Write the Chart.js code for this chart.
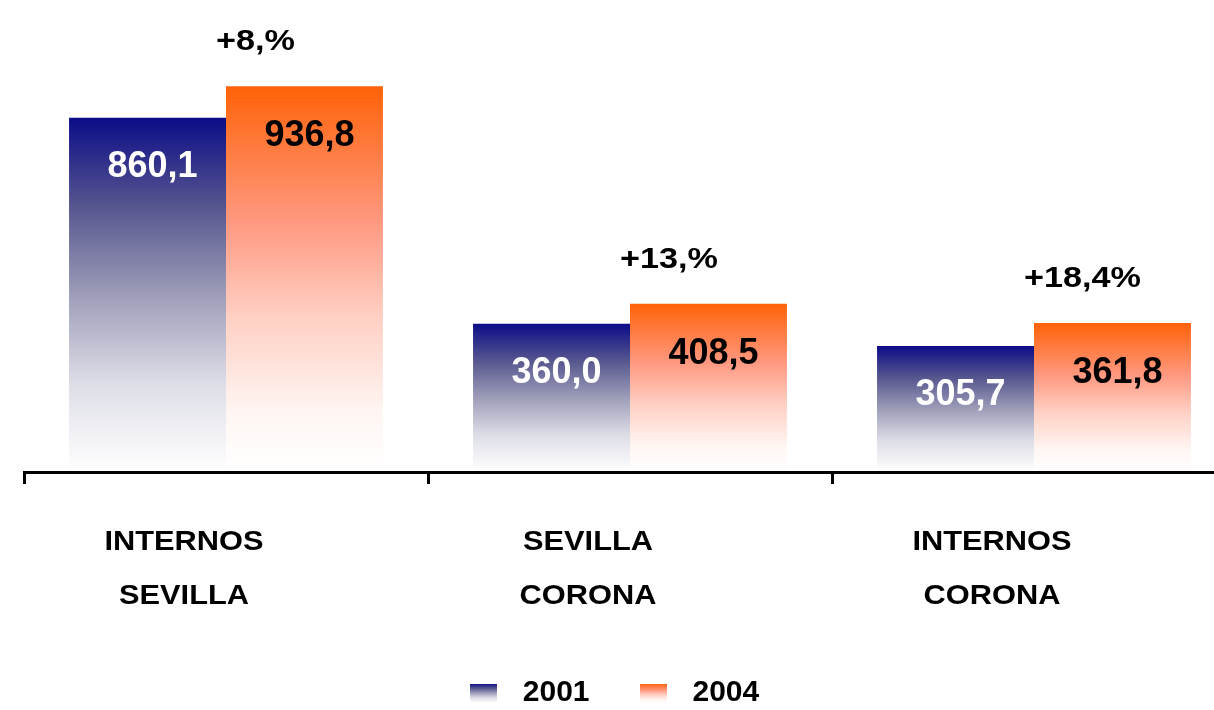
<!DOCTYPE html>
<html>
<head>
<meta charset="utf-8">
<script src="https://cdn.jsdelivr.net/npm/chart.js@4/dist/chart.umd.min.js"></script>
<style>
  html, body { margin: 0; padding: 0; background: #fff; overflow: hidden; }
  #wrap { width: 1236px; height: 710px; position: relative; }
</style>
</head>
<body>
<div id="wrap"><canvas id="myChart"></canvas></div>
<script>
// datos
const categorias = [['INTERNOS', 'SEVILLA'], ['SEVILLA', 'CORONA'], ['INTERNOS', 'CORONA']];
const serie2001 = [860.1, 360.0, 305.7];
const serie2004 = [936.8, 408.5, 361.8];
const crecimiento = ['+8,%', '+13,%', '+18,4%'];
const anios = ['2001', '2004'];

const FONT = "'Liberation Sans', Arial, Helvetica, sans-serif";
Chart.defaults.font.family = FONT;

const azulStops = [[0, '#0c0c88'], [0.25, '#56568f'], [0.5, '#9d9db9'], [0.75, '#dddde7'], [1, '#ffffff']];
const naranjaStops = [[0, '#ff6208'], [0.35, '#ff9880'], [0.6, '#ffd0c4'], [0.85, '#fff6f3'], [1, '#ffffff']];

// degradado por barra (arriba color, abajo blanco)
function barGradient(context, stops) {
  const chart = context.chart;
  const { chartArea, scales } = chart;
  if (!chartArea) return stops[0][1];
  const top = scales.y.getPixelForValue(context.raw);
  const bottom = scales.y.getPixelForValue(0);
  const g = chart.ctx.createLinearGradient(0, top, 0, bottom);
  stops.forEach(([o, c]) => g.addColorStop(o, c));
  return g;
}

// cuadrito de la leyenda
function legendBox(stops) {
  const c = document.createElement('canvas');
  c.width = 27;
  c.height = 19;
  const x = c.getContext('2d');
  const g = x.createLinearGradient(0, 0, 0, 19);
  stops.forEach(([o, col]) => g.addColorStop(o, col));
  x.fillStyle = g;
  x.fillRect(0, 0, 27, 19);
  return c;
}

const etiquetas = {
  id: 'etiquetas',
  afterLayout(chart) {
    // la leyenda va un poco a la izquierda del centro
    chart.legend.left -= 9;
    chart.legend.right -= 9;
  },
  afterDatasetsDraw(chart) {
    const ctx = chart.ctx;
    const m0 = chart.getDatasetMeta(0).data;
    const m1 = chart.getDatasetMeta(1).data;

    ctx.save();
    ctx.textAlign = 'center';
    ctx.textBaseline = 'middle';
    ctx.font = 'bold 36px ' + FONT;
    m0.forEach((bar, i) => {
      ctx.fillStyle = '#ffffff';
      ctx.fillText(serie2001[i].toFixed(1).replace('.', ','), bar.x + 5, bar.y + 49);
    });
    m1.forEach((bar, i) => {
      ctx.fillStyle = '#000000';
      ctx.fillText(serie2004[i].toFixed(1).replace('.', ','), bar.x + 5, bar.y + 50);
    });

    // porcentaje de crecimiento
    ctx.fillStyle = '#000000';
    ctx.font = 'bold 30px ' + FONT;
    ctx.textAlign = 'left';
    m1.forEach((bar, i) => {
      ctx.save();
      ctx.translate(bar.x - bar.width / 2 - 10, bar.y - 44);
      ctx.scale(1.14, 1);
      ctx.fillText(crecimiento[i], 0, 0);
      ctx.restore();
    });

    // nombres de las categorias
    ctx.textAlign = 'center';
    ctx.textBaseline = 'alphabetic';
    ctx.font = 'bold 28px ' + FONT;
    const xs = chart.scales.x;
    categorias.forEach((lineas, i) => {
      const cx = xs.getPixelForValue(i) - 42;
      lineas.forEach((t, j) => {
        ctx.save();
        ctx.translate(cx, 550 + j * 53.5);
        ctx.scale(1.1, 1);
        ctx.fillText(t, 0, 0);
        ctx.restore();
      });
    });
    ctx.restore();
  }
};

const ctx = document.getElementById('myChart').getContext('2d');

new Chart(ctx, {
  type: 'bar',
  data: {
    labels: categorias,
    datasets: [{
      label: anios[0],
      data: serie2001,
      backgroundColor: (c) => barGradient(c, azulStops),
      borderWidth: 0,
      pointStyle: legendBox(azulStops),
    }, {
      label: anios[1],
      data: serie2004,
      backgroundColor: (c) => barGradient(c, naranjaStops),
      borderWidth: 0,
      pointStyle: legendBox(naranjaStops),
    }]
  },
  options: {
    responsive: true,
    maintainAspectRatio: false,
    animation: false,
    layout: { padding: { top: 19, right: 0, bottom: -8, left: 0 } },
    datasets: {
      bar: { barPercentage: 1, categoryPercentage: 0.777 }
    },
    plugins: {
      tooltip: { enabled: false },
      legend: {
        position: 'bottom',
        labels: {
          usePointStyle: true,
          pointStyleWidth: 49,
          padding: 39,
          color: '#000',
          font: { size: 30, weight: 'bold' }
        }
      }
    },
    scales: {
      x: {
        offset: true,
        grid: {
          display: true,
          offset: true,
          z: 1,
          drawOnChartArea: false,
          drawTicks: true,
          tickLength: 12,
          color: '#000',
          lineWidth: 3
        },
        border: { display: true, color: '#000', width: 3, z: 1 },
        ticks: { display: false },
        afterFit(scale) {
          scale.height = scale.chart.height + 8 - scale.chart.legend.height - 472;
        }
      },
      y: {
        min: 0,
        max: 1100,
        grid: { display: false },
        border: { display: false },
        ticks: { display: false },
        afterFit(scale) {
          scale.width = 24;
        }
      }
    }
  },
  plugins: [etiquetas]
});
</script>
</body>
</html>
